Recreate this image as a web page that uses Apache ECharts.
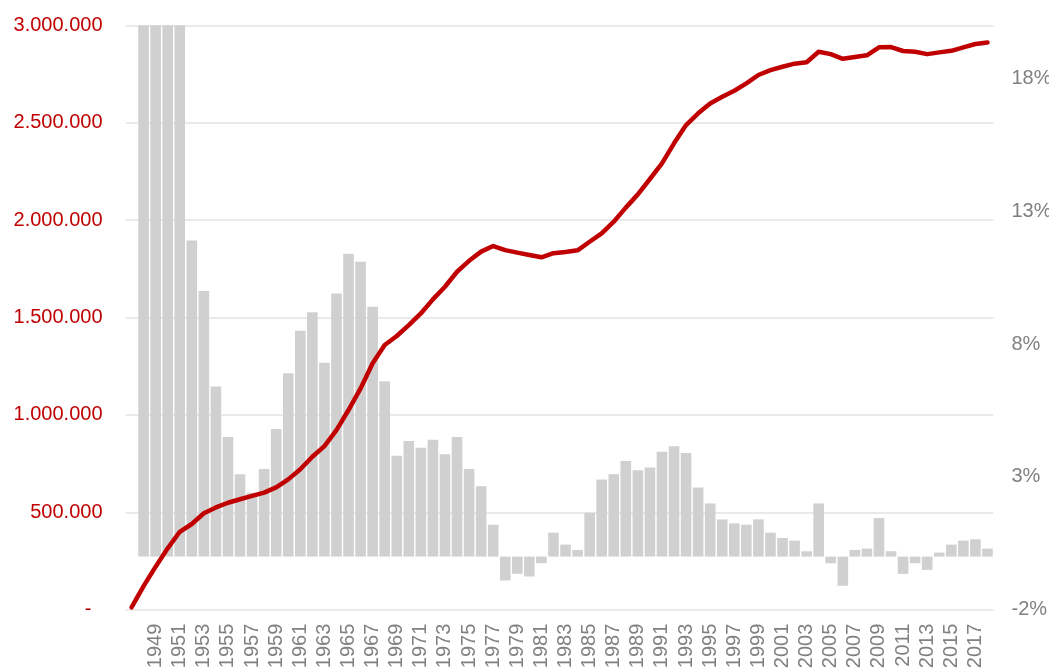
<!DOCTYPE html>
<html>
<head>
<meta charset="utf-8">
<style>
html,body{margin:0;padding:0;background:#fff;}
#c{width:1049px;height:669px;}
</style>
<script src="https://cdn.jsdelivr.net/npm/echarts@6/dist/echarts.min.js"></script>
</head>
<body>
<div id="c"></div>
<script>
var years = ['1947','1948','1949','1950','1951','1952','1953','1954','1955','1956','1957','1958','1959','1960',
'1961','1962','1963','1964','1965','1966','1967','1968','1969','1970','1971','1972','1973','1974','1975','1976',
'1977','1978','1979','1980','1981','1982','1983','1984','1985','1986','1987','1988','1989','1990','1991','1992',
'1993','1994','1995','1996','1997','1998','1999','2000','2001','2002','2003','2004','2005','2006','2007','2008',
'2009','2010','2011','2012','2013','2014','2015','2016','2017','2018'];

// total (left axis)
var totalValues = [12000,121000,221000,315000,400000,440000,495000,525000,549000,567000,584000,601000,628000,669000,
721000,785000,840000,922000,1025000,1136000,1265000,1359000,1405000,1461000,1521000,1593000,1658000,1735000,1791000,1838000,
1867000,1846000,1833000,1821000,1809000,1830000,1836000,1845000,1889000,1932000,1992000,2064000,2132000,2211000,2291000,2394000,
2488000,2548000,2599000,2633000,2664000,2702000,2745000,2770000,2787000,2803000,2810000,2864000,2852000,2828000,2837000,2846000,
2887000,2888000,2868000,2864000,2852000,2861000,2869000,2887000,2904000,2912000];

// yearly growth in % (right axis); first four bars exceed the axis top and are clipped
var growthValues = [null,90,80,42,27,11.9,10.0,6.4,4.5,3.1,2.4,3.3,4.8,6.9,
8.5,9.2,7.3,9.9,11.4,11.1,9.4,6.6,3.8,4.35,4.1,4.4,3.85,4.5,3.3,2.65,
1.2,-0.9,-0.65,-0.75,-0.25,0.9,0.45,0.25,1.65,2.9,3.1,3.6,3.25,3.35,3.95,4.15,
3.9,2.6,2.0,1.4,1.25,1.2,1.4,0.9,0.7,0.6,0.2,2.0,-0.25,-1.1,0.25,0.3,
1.45,0.2,-0.65,-0.25,-0.5,0.15,0.45,0.6,0.65,0.3];

var leftTicks = [0,500000,1000000,1500000,2000000,2500000,3000000];
var rightTicks = [-2,3,8,13,18];

function fmtThousands(v){
  if (v === 0) return '-  ';
  return String(v).replace(/\B(?=(\d{3})+(?!\d))/g, '.');
}

var FONT = '"Liberation Sans", Arial, sans-serif';
var chart = echarts.init(document.getElementById('c'), null, {renderer:'canvas'});
chart.setOption({
  animation: false,
  backgroundColor: '#ffffff',
  grid: {left: 125.5, right: 55.5, top: 25.3, bottom: 59.3, containLabel: false, outerBoundsMode: 'none'},
  xAxis: {
    type: 'category',
    data: years,
    boundaryGap: true,
    axisLine: {show: false},
    axisTick: {show: false},
    splitLine: {show: false},
    axisLabel: {
      rotate: 90,
      margin: 14,
      fontSize: 20,
      fontFamily: FONT,
      color: '#808080',
      interval: function(i, v){ return (parseInt(v,10) % 2 === 1) && v !== '1947'; }
    }
  },
  yAxis: [
    {
      type: 'value',
      position: 'left',
      min: leftTicks[0],
      max: leftTicks[leftTicks.length-1],
      interval: leftTicks[1]-leftTicks[0],
      axisLine: {show: false},
      axisTick: {show: false},
      splitLine: {show: true, lineStyle: {color: '#e3e3e3', width: 1.5}},
      axisLabel: {
        margin: 23,
        fontSize: 20,
        fontFamily: FONT,
        color: '#C00000',
        formatter: fmtThousands
      }
    },
    {
      type: 'value',
      position: 'right',
      min: -2,
      max: 20,
      axisLine: {show: false},
      axisTick: {show: false},
      splitLine: {show: false},
      axisLabel: {
        customValues: rightTicks,
        margin: 18,
        fontSize: 20,
        fontFamily: FONT,
        color: '#808080',
        formatter: function(v){ return v + '%'; }
      }
    }
  ],
  series: [
    {
      type: 'bar',
      yAxisIndex: 1,
      data: growthValues,
      barCategoryGap: '12%',
      itemStyle: {color: '#d0d0d0'},
      clip: true,
      z: 2
    },
    {
      type: 'line',
      yAxisIndex: 0,
      data: totalValues,
      symbol: 'none',
      smooth: false,
      lineStyle: {color: '#C00000', width: 4.5, cap: 'round', join: 'round'},
      z: 3
    }
  ]
});
</script>
</body>
</html>
